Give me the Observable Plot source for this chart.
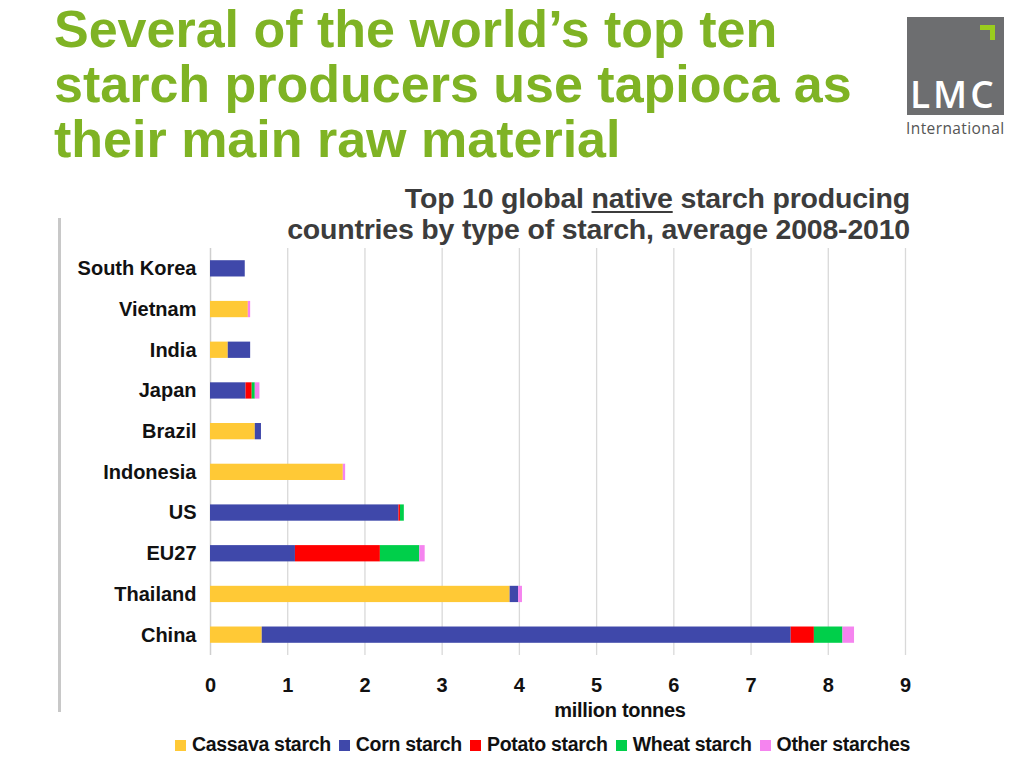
<!DOCTYPE html>
<html>
<head>
<meta charset="utf-8">
<script src="https://cdn.jsdelivr.net/npm/d3@7"></script>
<script src="https://cdn.jsdelivr.net/npm/@observablehq/plot@0.6"></script>
<style>
  html, body { margin: 0; padding: 0; background: #fff; }
  #page { position: relative; width: 1024px; height: 768px; overflow: hidden; font-family: "Liberation Sans", Arial, sans-serif; }
  #title { position: absolute; left: 54px; top: 2px; font-size: 52px; line-height: 55px; font-weight: bold; color: #7fb324; margin: 0; white-space: nowrap; }
  #subtitle { position: absolute; right: 114px; top: 183px; text-align: right; font-size: 28.5px; line-height: 31px; font-weight: bold; color: #3c3c3c; white-space: nowrap; letter-spacing: -0.2px; }
  #subtitle u { text-decoration-thickness: 2px; text-underline-offset: 3px; }
  #vline { position: absolute; left: 58px; top: 218px; width: 3px; height: 494px; background: #c8c8c8; }
  #chart { position: absolute; left: 0; top: 230px; }
  #xlabel { position: absolute; left: 520px; width: 200px; top: 699px; text-align: center; font-size: 20px; font-weight: bold; color: #111; letter-spacing: -0.3px; }
  #legend { position: absolute; right: 114px; top: 733px; display: flex; gap: 8px; font-size: 19.5px; font-weight: bold; color: #111; letter-spacing: -0.3px; white-space: nowrap; }
  #legend .item { display: flex; align-items: baseline; }
  #legend .sw { display: inline-block; width: 11px; height: 11px; margin-right: 6px; }
  #logo { position: absolute; left: 907px; top: 17px; width: 97px; height: 98px; background: #6d6e70; }
  #logo .mark1 { position: absolute; left: 73px; top: 8px; width: 15px; height: 5px; background: #9acd1e; }
  #logo .mark2 { position: absolute; left: 83px; top: 8px; width: 5px; height: 15px; background: #9acd1e; }
  #logo .txt { position: absolute; left: 3px; top: 57px; font-family: "Open Sans", "DejaVu Sans", sans-serif; font-weight: 600; font-size: 37px; color: #fff; letter-spacing: 3px; line-height: 40px; }
  #intl { position: absolute; left: 906px; top: 117px; font-family: "Open Sans", "DejaVu Sans", sans-serif; font-size: 15.5px; color: #555; letter-spacing: 0.4px; }
</style>
</head>
<body>
<div id="page">
  <div id="title">Several of the world’s top ten<br>starch producers use tapioca as<br>their main raw material</div>
  <div id="subtitle">Top 10 global <u>native</u> starch producing<br>countries by type of starch, average 2008-2010</div>
  <div id="logo"><div class="mark1"></div><div class="mark2"></div><div class="txt">LMC</div></div>
  <div id="intl">International</div>
  <div id="vline"></div>
  <div id="chart"></div>
  <div id="xlabel">million tonnes</div>
  <div id="legend"></div>
</div>
<script>
const countries = ["South Korea","Vietnam","India","Japan","Brazil","Indonesia","US","EU27","Thailand","China"];
const starchTypes = ["Cassava starch","Corn starch","Potato starch","Wheat starch","Other starches"];
const starchColors = ["#ffc936","#3f48aa","#ff0000","#00cf4a","#f584ef"];
const cassava = [0, 0.49, 0.23, 0, 0.58, 1.72, 0, 0, 3.88, 0.67];
const corn    = [0.45, 0, 0.29, 0.46, 0.08, 0, 2.44, 1.10, 0.11, 6.85];
const potato  = [0, 0, 0, 0.08, 0, 0, 0.02, 1.10, 0, 0.30];
const wheat   = [0, 0, 0, 0.04, 0, 0, 0.05, 0.51, 0, 0.37];
const other   = [0, 0.03, 0, 0.06, 0, 0.03, 0, 0.07, 0.05, 0.15];
const xTicks = [0,1,2,3,4,5,6,7,8,9];

const seriesValues = [cassava, corn, potato, wheat, other];
const rows = [];
countries.forEach((c, i) => {
  starchTypes.forEach((t, j) => {
    rows.push({country: c, type: t, value: seriesValues[j][i]});
  });
});

const chart = Plot.plot({
  width: 930,
  height: 470,
  marginLeft: 210,
  marginRight: 25,
  marginTop: 18,
  marginBottom: 45,
  style: {fontFamily: "'Liberation Sans', Arial, sans-serif", color: "#111", background: "transparent"},
  x: {domain: [0, 9], ticks: xTicks},
  y: {domain: countries, paddingInner: 0.6, paddingOuter: 0.3, round: false},
  color: {domain: starchTypes, range: starchColors},
  marks: [
    Plot.gridX(xTicks.slice(1), {stroke: "#d9d9d9", strokeOpacity: 1, strokeWidth: 1.3}),
    Plot.ruleX([0], {stroke: "#cfcfcf", strokeWidth: 1.5}),
    Plot.barX(rows, Plot.stackX({x: "value", y: "country", fill: "type", order: starchTypes})),
    Plot.axisX({ticks: xTicks, tickSize: 0, tickPadding: 22, fontSize: 20, fontWeight: "bold", label: null, tickFormat: d => d}),
    Plot.axisY({tickSize: 0, tickPadding: 14, fontSize: 20, fontWeight: "bold", label: null, style: {letterSpacing: "-0.6px"}})
  ]
});
document.getElementById("chart").appendChild(chart);

const legend = document.getElementById("legend");
starchTypes.forEach((t, i) => {
  const item = document.createElement("div");
  item.className = "item";
  const sw = document.createElement("span");
  sw.className = "sw";
  sw.style.background = starchColors[i];
  item.appendChild(sw);
  item.appendChild(document.createTextNode(t));
  legend.appendChild(item);
});
</script>
</body>
</html>
